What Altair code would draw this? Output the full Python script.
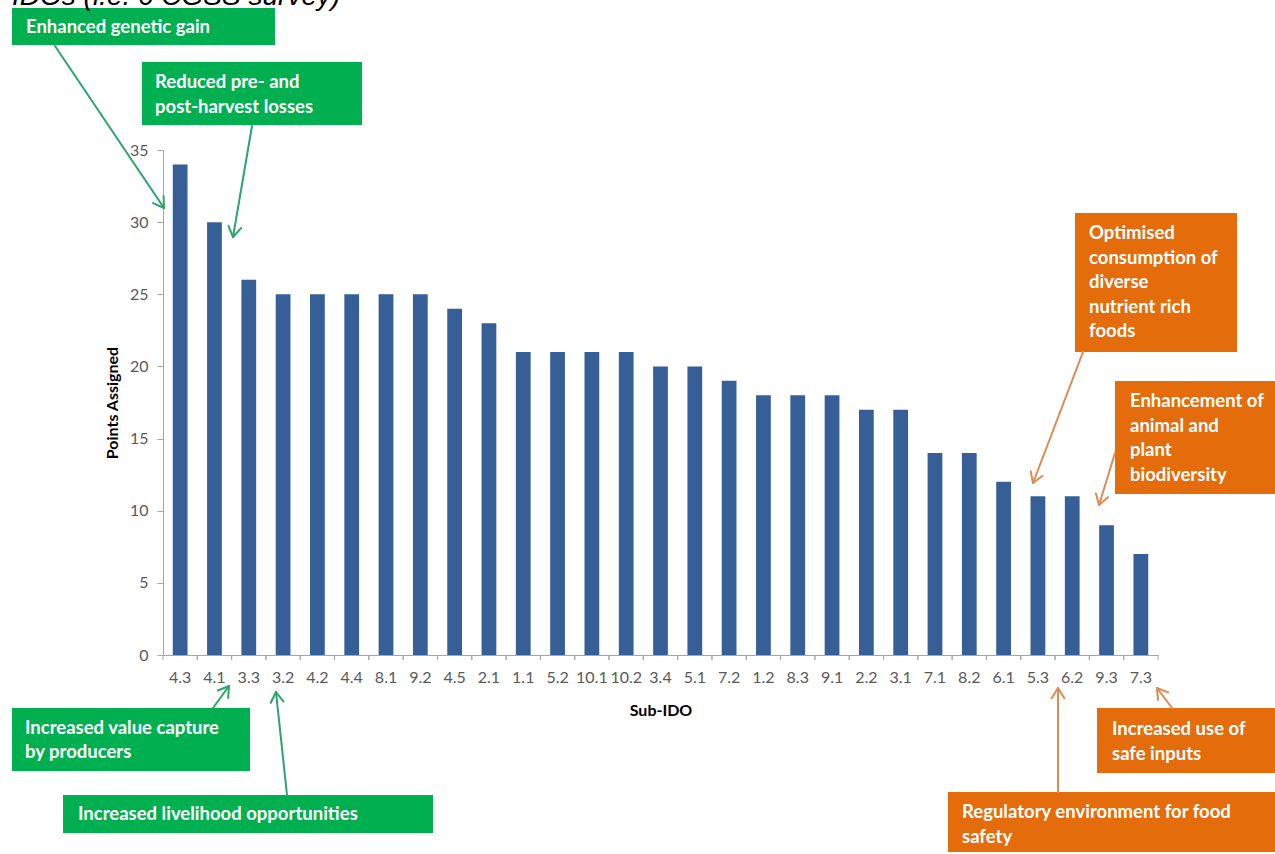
import altair as alt
import pandas as pd
import numpy as np

# ---- data ----
sub_ido = ["4.3", "4.1", "3.3", "3.2", "4.2", "4.4", "8.1", "9.2", "4.5", "2.1",
           "1.1", "5.2", "10.1", "10.2", "3.4", "5.1", "7.2", "1.2", "8.3", "9.1",
           "2.2", "3.1", "7.1", "8.2", "6.1", "5.3", "6.2", "9.3", "7.3"]
points = [34, 30, 26, 25, 25, 25, 25, 25, 24, 23,
          21, 21, 21, 21, 20, 20, 19, 18, 18, 18,
          17, 17, 14, 14, 12, 11, 11, 9, 7]
y_ticks = [0, 5, 10, 15, 20, 25, 30, 35]

title_text = "IDOs (i.e. 6 CGSS survey)"

# annotation texts (lines)
ann_texts = [
    ["Enhanced genetic gain"],
    ["Reduced pre- and", "post-harvest losses"],
    ["Increased value capture", "by producers"],
    ["Increased livelihood opportunities"],
    ["Optimised", "consumption of", "diverse", "nutrient rich", "foods"],
    ["Enhancement of", "animal and", "plant", "biodiversity"],
    ["Increased use of", "safe inputs"],
    ["Regulatory environment for food", "safety"],
]
ann_kind = ["g", "g", "g", "g", "o", "o", "o", "o"]

# ---- layout (page pixels) ----
LEFT, TOP = 163, 150
W, H = 995, 505
PAD_IN = 0.57
STEP = W / len(sub_ido)
GREEN, GREEN_ARROW = "#00B050", "#2FA36B"
ORANGE, ORANGE_ARROW = "#E46C0A", "#DE8A52"
FONT = "Lato"

# box: x1, y1, x2, y2, text x, first line y, line spacing
ann_boxes = [
    (12, 8, 275, 45, 26, 27, 24),
    (142, 62, 362, 125, 155, 82, 24.5),
    (12, 708, 250, 771, 25, 728, 24),
    (63, 795, 433, 833, 78, 814, 24),
    (1075, 213, 1237, 352, 1089, 233, 24.6),
    (1115, 381, 1280, 494, 1130, 401, 24.7),
    (1097, 708, 1280, 773, 1112, 729, 25),
    (948, 792, 1280, 852, 962, 812, 24.5),
]
# arrows: start (x, y) -> tip (x, y)
ann_arrows = [
    (55, 46, 164, 208),
    (252, 126, 233, 237),
    (213, 708, 229, 686),
    (287, 795, 276, 692),
    (1083, 352, 1033, 483),
    (1115, 453, 1099, 505),
    (1172, 708, 1157, 688),
    (1058, 792, 1058, 688),
]

def rx(v):
    return v - LEFT

def ry(v):
    return v - TOP

box_rows, text_rows, line_rows = [], [], []
for i, (b, lines, k) in enumerate(zip(ann_boxes, ann_texts, ann_kind)):
    fill = GREEN if k == "g" else ORANGE
    acol = GREEN_ARROW if k == "g" else ORANGE_ARROW
    box_rows.append({"x": rx(b[0]), "x2": rx(b[2]), "y": ry(b[1]), "y2": ry(b[3]), "fill": fill})
    for j, t in enumerate(lines):
        text_rows.append({"x": rx(b[4]), "y": ry(b[5] + j * b[6]), "t": t})
    sx, sy, tx, ty = ann_arrows[i]
    line_rows.append({"x": rx(sx), "y": ry(sy), "x2": rx(tx), "y2": ry(ty), "c": acol})
    d = np.array([tx - sx, ty - sy], dtype=float)
    d /= np.linalg.norm(d)
    for ang in (np.radians(32), -np.radians(32)):
        rot = np.array([[np.cos(ang), -np.sin(ang)], [np.sin(ang), np.cos(ang)]])
        p = np.array([tx, ty]) - 12 * rot.dot(d)
        line_rows.append({"x": rx(tx), "y": ry(ty), "x2": rx(p[0]), "y2": ry(p[1]), "c": acol})

bars_df = pd.DataFrame({"sub": sub_ido, "pts": points})
xscale = alt.Scale(paddingInner=PAD_IN, paddingOuter=PAD_IN / 2)
x_axis = alt.Axis(title="Sub-IDO", labelAngle=0, ticks=False, tickSize=0,
                  labelPadding=14, labelFontSize=16, labelColor="#595959",
                  labelFont=FONT, domainColor="#A6A6A6", titleFont=FONT,
                  titleFontSize=16, titleFontWeight="bold", titleColor="#000000",
                  titlePadding=17, grid=False)

bars = alt.Chart(bars_df).mark_bar(color="#365F97").encode(
    x=alt.X("sub:N", sort=sub_ido, scale=xscale, axis=x_axis),
    y=alt.Y("pts:Q", scale=alt.Scale(domain=[0, 35], nice=False),
            axis=alt.Axis(title="Points Assigned", values=y_ticks, grid=False, tickSize=6,
                          tickColor="#A6A6A6", domainColor="#A6A6A6", labelPadding=9,
                          labelFontSize=16, labelColor="#595959", labelFont=FONT,
                          titleFont=FONT, titleFontSize=16, titleFontWeight="bold",
                          titleColor="#000000", titlePadding=9)),
)

tick_start = alt.Chart(bars_df).mark_rule(color="#A6A6A6", xOffset=-PAD_IN * STEP / 2).encode(
    x=alt.X("sub:N", sort=sub_ido, scale=xscale, bandPosition=0, axis=x_axis),
    y=alt.value(H), y2=alt.value(H + 5),
)
tick_end = alt.Chart(bars_df).mark_rule(color="#A6A6A6", xOffset=PAD_IN * STEP / 2).encode(
    x=alt.X("sub:N", sort=sub_ido, scale=xscale, bandPosition=1, axis=x_axis),
    y=alt.value(H), y2=alt.value(H + 5),
)

base = alt.layer(bars, tick_start, tick_end).resolve_scale(x="shared").resolve_axis(x="shared")

boxes = alt.Chart(pd.DataFrame(box_rows)).mark_rect().encode(
    x=alt.X("x:Q", scale=None, axis=None), x2="x2:Q",
    y=alt.Y("y:Q", scale=None, axis=None), y2="y2:Q",
    color=alt.Color("fill:N", scale=None),
)
texts = alt.Chart(pd.DataFrame(text_rows)).mark_text(
    align="left", baseline="middle", font=FONT, fontSize=18.5, fontWeight="bold", color="#FFFFFF"
).encode(
    x=alt.X("x:Q", scale=None, axis=None),
    y=alt.Y("y:Q", scale=None, axis=None),
    text="t:N",
)
arrows = alt.Chart(pd.DataFrame(line_rows)).mark_rule(strokeWidth=2, strokeCap="round").encode(
    x=alt.X("x:Q", scale=None, axis=None), x2="x2:Q",
    y=alt.Y("y:Q", scale=None, axis=None), y2="y2:Q",
    color=alt.Color("c:N", scale=None),
)
title_mark = alt.Chart(pd.DataFrame({"t": [title_text]})).mark_text(
    align="left", baseline="alphabetic", font="Liberation Sans", fontSize=28,
    fontStyle="italic", color="#000000"
).encode(
    x=alt.value(rx(12)), y=alt.value(ry(5)), text="t:N",
)

chart = alt.layer(base, boxes, arrows, texts, title_mark).resolve_scale(
    x="independent", y="independent", color="independent"
).properties(
    width=W, height=H,
    padding={"left": LEFT, "top": TOP, "right": 1275 - LEFT - W, "bottom": 854 - TOP - H},
    autosize=alt.AutoSizeParams(type="none"),
    view=alt.ViewBackground(stroke="transparent", strokeWidth=0),
).configure_view(
    strokeWidth=0, stroke="transparent"
).configure(
    background="#FFFFFF", style={"cell": {"stroke": "transparent", "strokeWidth": 0}}
)

chart.save("out.html", embed_options={"renderer": "svg", "actions": False})
